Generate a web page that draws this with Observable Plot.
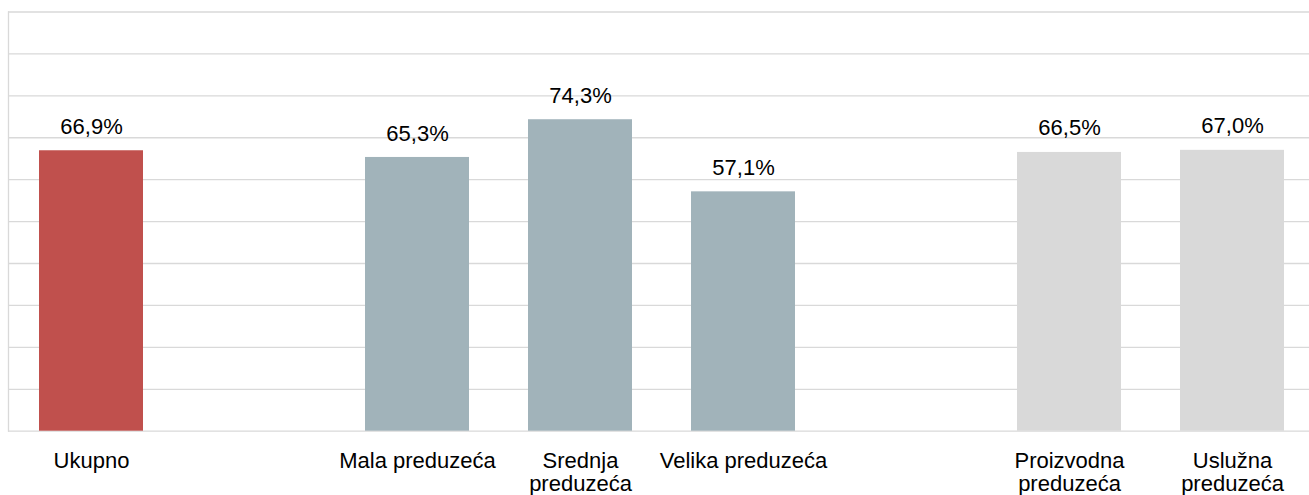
<!DOCTYPE html>
<html>
<head>
<meta charset="utf-8">
<script src="https://cdn.jsdelivr.net/npm/d3@7"></script>
<script src="https://cdn.jsdelivr.net/npm/@observablehq/plot@0.6"></script>
<style>
  html, body { margin: 0; padding: 0; background: #fff; }
</style>
</head>
<body>
<div id="chart"></div>
<script>
const categories = ["Ukupno", "Mala preduzeća", "Srednja preduzeća", "Velika preduzeća", "Proizvodna preduzeća", "Uslužna preduzeća"];
const values = [66.9, 65.3, 74.3, 57.1, 66.5, 67.0];
const groups = ["total", "size", "size", "size", "sector", "sector"];
const tickLabels = ["Ukupno", "Mala preduzeća", "Srednja\npreduzeća", "Velika preduzeća", "Proizvodna\npreduzeća", "Uslužna\npreduzeća"];
const groupNames = ["total", "size", "sector"];
const groupColors = ["#c0504d", "#a1b3ba", "#d9d9d9"];
const yTicks = [0, 10, 20, 30, 40, 50, 60, 70, 80, 90, 100];

const data = categories.map((c, i) => ({category: c, value: values[i], group: groups[i]}));

// x domain: categories with an empty slot between groups
const domain = [];
categories.forEach((c, i) => {
  if (i > 0 && groups[i] !== groups[i - 1]) domain.push("gap" + i);
  domain.push(c);
});
const labelMap = new Map(categories.map((c, i) => [c, tickLabels[i]]));
const fmt = v => d3.format(".1f")(v).replace(".", ",") + "%";

const chart = Plot.plot({
  width: 1309,
  height: 495,
  marginLeft: 8,
  marginRight: 0,
  marginTop: 11.5,
  marginBottom: 64.3,
  style: {fontFamily: "'Liberation Sans', Arial, sans-serif", fontSize: "22px", color: "#000", background: "#fff"},
  x: {domain, range: [8, 1314.5], paddingInner: 0.3627, paddingOuter: 0.184, axis: null, label: null},
  y: {domain: [0, 100], axis: null},
  color: {domain: groupNames, range: groupColors},
  marks: [
    Plot.ruleY(yTicks, {stroke: "#d9d9d9", strokeWidth: 1.3}),
    Plot.frame({anchor: "left", stroke: "#d9d9d9", strokeWidth: 1.3}),
    Plot.barY(data, {x: "category", y: "value", fill: "group"}),
    Plot.text(data, {x: "category", y: "value", text: d => fmt(d.value), dy: -24, fill: "#000"}),
    Plot.axisX({tickSize: 0, tickPadding: 20, label: null, tickFormat: d => labelMap.get(d) ?? "", lineHeight: 1.05, fill: "#000"})
  ]
});
document.getElementById("chart").appendChild(chart);
</script>
</body>
</html>
